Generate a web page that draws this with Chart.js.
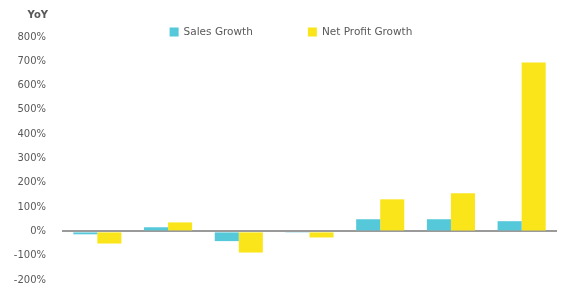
<!DOCTYPE html>
<html>
<head>
<meta charset="utf-8">
<script src="https://cdn.jsdelivr.net/npm/chart.js@4"></script>
<style>
  html, body { margin: 0; padding: 0; background: #fff; overflow: hidden; }
  canvas { display: block; }
</style>
</head>
<body>
<canvas id="chart" width="563" height="293"></canvas>
<script>
// values (%)
const categories = ['1', '2', '3', '4', '5', '6', '7'];
const salesGrowth = [-12, 17, -40, -3, 50, 50, 42];
const netProfitGrowth = [-50, 37, -87, -25, 132, 157, 695];
const seriesNames = ['Sales Growth', 'Net Profit Growth'];
const seriesColors = ['#55c8da', '#fae51a'];
const axisTitle = 'YoY';

const textColor = '#595959';
const fontFamily = '"DejaVu Sans", sans-serif';

// draws "YoY" label and the legend at the top
const headerPlugin = {
  id: 'header',
  afterDraw(chart) {
    const ctx = chart.ctx;
    ctx.save();
    ctx.fillStyle = textColor;
    ctx.textBaseline = 'middle';
    ctx.font = 'bold 10px ' + fontFamily;
    ctx.textAlign = 'right';
    ctx.fillText(axisTitle, 48, 15);

    ctx.font = '10.5px ' + fontFamily;
    ctx.textAlign = 'left';
    const box = 9, gap = 5, itemGap = 55;
    const items = chart.data.datasets.map(d => ({ label: d.label, color: d.backgroundColor, w: box + gap + ctx.measureText(d.label).width }));
    const total = items.reduce((s, it) => s + it.w, 0) + itemGap * (items.length - 1);
    let x = 291 - total / 2;
    const y = 32;
    items.forEach(it => {
      ctx.fillStyle = it.color;
      ctx.fillRect(x, y - box / 2, box, box);
      ctx.fillStyle = textColor;
      ctx.fillText(it.label, x + box + gap, y + 0.5);
      x += it.w + itemGap;
    });
    ctx.restore();
  }
};

new Chart(document.getElementById('chart').getContext('2d'), {
  type: 'bar',
  data: {
    labels: categories,
    datasets: [
      { label: seriesNames[0], data: salesGrowth, backgroundColor: seriesColors[0] },
      { label: seriesNames[1], data: netProfitGrowth, backgroundColor: seriesColors[1] }
    ]
  },
  options: {
    responsive: false,
    animation: false,
    layout: { padding: { top: 37, right: 6, bottom: 13, left: 0 } },
    datasets: { bar: { categoryPercentage: 0.68, barPercentage: 1.0, borderWidth: 0 } },
    plugins: { legend: { display: false }, tooltip: { enabled: false } },
    scales: {
      x: { display: false },
      y: {
        min: -200,
        max: 800,
        afterFit(scale) { scale.width = 62; },
        border: { display: false },
        grid: {
          drawTicks: true,
          tickLength: 13,
          tickColor: 'rgba(0,0,0,0)',
          lineWidth: 2,
          color: ctx => ctx.tick && ctx.tick.value === 0 ? '#9a9a9a' : 'rgba(0,0,0,0)'
        },
        ticks: {
          stepSize: 100,
          padding: 3,
          color: textColor,
          font: { family: fontFamily, size: 10 },
          callback: v => v + '%'
        }
      }
    }
  },
  plugins: [headerPlugin]
});
</script>
</body>
</html>
